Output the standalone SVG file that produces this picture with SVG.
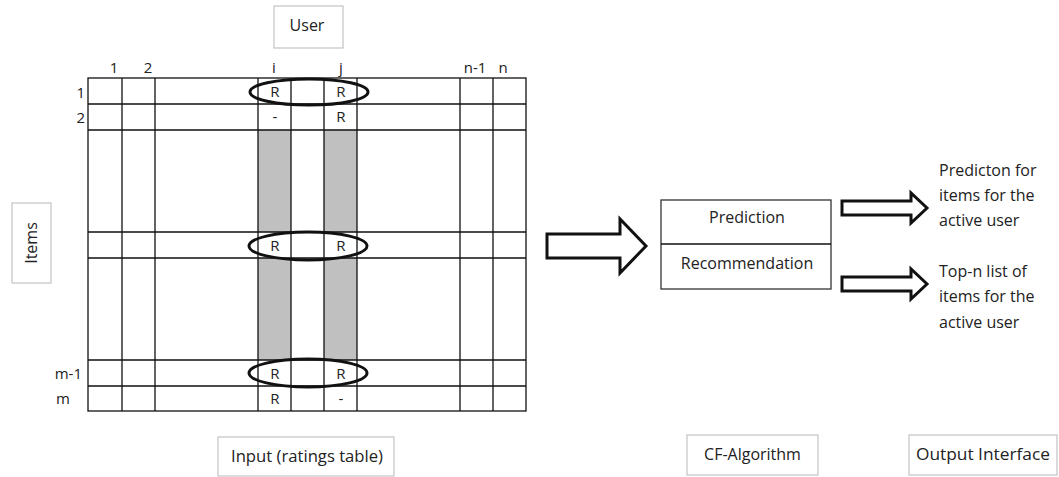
<svg xmlns="http://www.w3.org/2000/svg" width="1059" height="477" viewBox="0 0 1059 477">
<style>
.t{font-family:"Open Sans","Liberation Sans",sans-serif;font-size:16px;fill:#222}
.c{text-anchor:middle}
.lb{fill:#fff;stroke:#c8c8c8;stroke-width:1.3}
.g{stroke:#111;stroke-width:1.3;fill:none}
.sh{fill:#c0c0c0}
.el{fill:none;stroke:#111;stroke-width:3}
.ar{fill:#fff;stroke:#111;stroke-width:3;stroke-linejoin:miter}
.bx{fill:#fff;stroke:#333;stroke-width:1.3}
</style>
<rect width="1059" height="477" fill="#fff"/>
<g id="user-label"><rect class="lb" x="274" y="6" width="69" height="42"/><text class="t c" x="307" y="31">User</text></g>
<g id="items-label"><rect class="lb" x="12" y="203" width="39" height="80"/><text class="t c" transform="translate(37 243) rotate(-90)">Items</text></g>
<g id="ratings-table">
<rect class="sh" x="258" y="130" width="33" height="102"/>
<rect class="sh" x="324" y="130" width="33" height="102"/>
<rect class="sh" x="258" y="258" width="33" height="102"/>
<rect class="sh" x="324" y="258" width="33" height="102"/>
<rect class="g" x="88" y="78" width="438" height="333"/>
<path class="g" d="M122 78V411M155 78V411M258 78V411M291 78V411M324 78V411M357 78V411M460 78V411M493 78V411M88 104H526M88 130H526M88 232H526M88 258H526M88 360H526M88 386H526"/>
<g class="t c" style="font-size:15px">
<text x="114" y="73">1</text><text x="148" y="73">2</text><text x="274" y="73">i</text><text x="341" y="73">j</text><text x="475" y="73">n-1</text><text x="503" y="73">n</text>
<text x="275" y="97">R</text><text x="341" y="97">R</text>
<text x="275" y="122">-</text><text x="341" y="122">R</text>
<text x="275" y="251">R</text><text x="341" y="251">R</text>
<text x="275" y="379">R</text><text x="341" y="379">R</text>
<text x="275" y="404">R</text><text x="341" y="404">-</text>
</g>
<g class="t" text-anchor="end" style="font-size:15px">
<text x="85" y="98">1</text><text x="85" y="123">2</text><text x="82" y="379">m-1</text><text x="70" y="404">m</text>
</g>
<ellipse class="el" cx="309" cy="92" rx="59" ry="13"/>
<ellipse class="el" cx="308" cy="246" rx="59" ry="14"/>
<ellipse class="el" cx="308" cy="373" rx="59" ry="14"/>
</g>
<g id="input-label"><rect class="lb" x="218" y="437" width="176" height="39"/><text class="t c" x="307" y="462" textLength="152" lengthAdjust="spacingAndGlyphs">Input (ratings table)</text></g>
<g id="cf-algorithm"><rect class="bx" x="661" y="200" width="170" height="89"/><path class="g" d="M661 244H831"/><text class="t c" x="747" y="223">Prediction</text><text class="t c" x="747" y="269">Recommendation</text></g>
<g id="cf-label"><rect class="lb" x="687" y="435" width="131" height="40"/><text class="t c" x="752.5" y="460">CF-Algorithm</text></g>
<g id="output-label"><rect class="lb" x="909" y="435" width="148" height="40"/><text class="t c" x="983" y="460" textLength="134" lengthAdjust="spacingAndGlyphs">Output Interface</text></g>
<g id="output-texts" class="t">
<text x="939" y="176">Predicton for</text><text x="939" y="201">items for the</text><text x="939" y="226">active user</text>
<text x="939" y="277">Top-n list of</text><text x="939" y="302">items for the</text><text x="939" y="328">active user</text>
</g>
<g id="connectors">
<path class="ar" d="M547 234H620V219L646 246L620 273V258H547Z"/>
<path class="ar" d="M842 201H911V193L927 208L911 223V215H842Z"/>
<path class="ar" d="M842 277H911V269L927 284L911 299V291H842Z"/>
</g>
</svg>
